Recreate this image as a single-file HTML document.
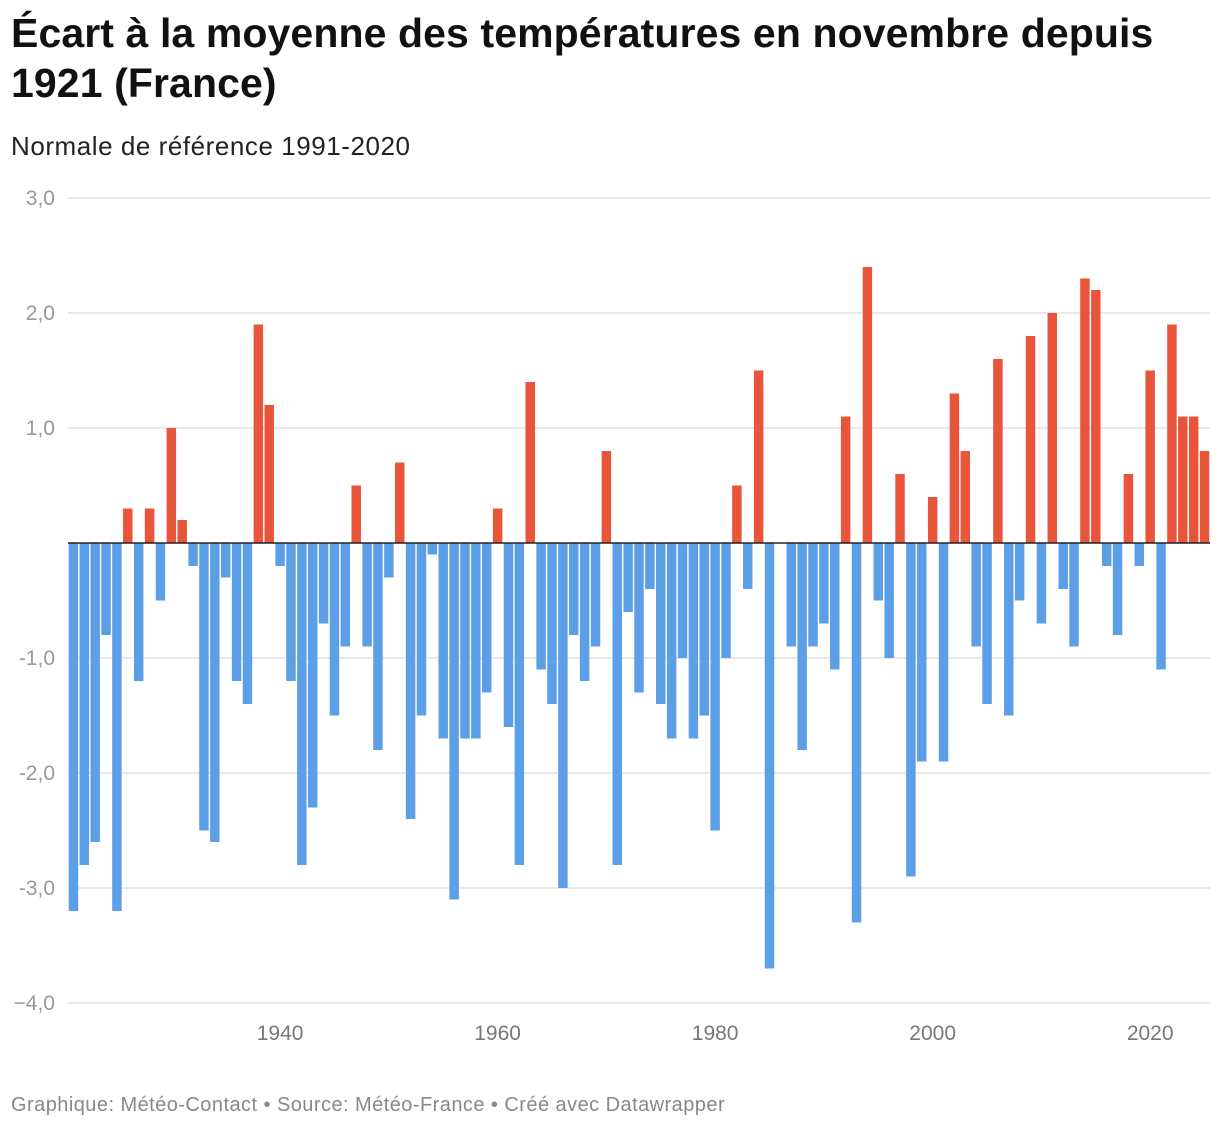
<!DOCTYPE html>
<html><head><meta charset="utf-8"><style>
body{margin:0;background:#fff;font-family:"Liberation Sans",sans-serif;}
#t{position:absolute;left:11px;top:8px;font-size:41px;font-weight:bold;line-height:50px;color:#111;width:1210px;letter-spacing:0.1px}
#s{position:absolute;left:11px;top:131px;font-size:26px;color:#222;letter-spacing:0.55px}
#f{position:absolute;left:11px;top:1094px;font-size:20px;color:#888;letter-spacing:0.45px}
svg{position:absolute;left:0;top:0}
</style></head><body>
<div id="t">Écart à la moyenne des températures en novembre depuis 1921 (France)</div>
<div id="s">Normale de référence 1991-2020</div>
<div id="f">Graphique: Météo-Contact • Source: Météo-France • Créé avec Datawrapper</div>
<svg id="c" width="1220" height="1130"></svg>
<script>
const startYear=1921;
const values=[-3.2,-2.8,-2.6,-0.8,-3.2,0.3,-1.2,0.3,-0.5,1.0,0.2,-0.2,-2.5,-2.6,-0.3,-1.2,-1.4,1.9,1.2,-0.2,
-1.2,-2.8,-2.3,-0.7,-1.5,-0.9,0.5,-0.9,-1.8,-0.3,0.7,-2.4,-1.5,-0.1,-1.7,-3.1,-1.7,-1.7,-1.3,0.3,
-1.6,-2.8,1.4,-1.1,-1.4,-3.0,-0.8,-1.2,-0.9,0.8,-2.8,-0.6,-1.3,-0.4,-1.4,-1.7,-1.0,-1.7,-1.5,-2.5,
-1.0,0.5,-0.4,1.5,-3.7,0,-0.9,-1.8,-0.9,-0.7,-1.1,1.1,-3.3,2.4,-0.5,-1.0,0.6,-2.9,-1.9,0.4,
-1.9,1.3,0.8,-0.9,-1.4,1.6,-1.5,-0.5,1.8,-0.7,2.0,-0.4,-0.9,2.3,2.2,-0.2,-0.8,0.6,-0.2,1.5,
-1.1,1.9,1.1,1.1,0.8];
const yTicks=[3,2,1,-1,-2,-3,-4];
const yTickLabels=["3,0","2,0","1,0","-1,0","-2,0","-3,0","−4,0"];
const xTicks=[1940,1960,1980,2000,2020];
const NS="http://www.w3.org/2000/svg";
const svg=document.getElementById('c');
const x0=68,x1=1210,n=values.length,band=(x1-x0)/n;
const y=v=>543-v*115;
const xc=yr=>x0+(yr-startYear+0.5)*band;
function mk(t,a){const e=document.createElementNS(NS,t);for(const k in a)e.setAttribute(k,a[k]);svg.appendChild(e);return e;}
yTicks.forEach((v,i)=>{
 const l=mk('line',{x1:68,x2:1210,y1:y(v),y2:y(v),stroke:'#e2e2e2','stroke-width':1.5});
 
 
 const t=mk('text',{x:55,y:y(v)+7,'text-anchor':'end','font-size':21,fill:'#999'});
 t.textContent=yTickLabels[i];
 
 
});
values.forEach((v,i)=>{
 const r=mk('rect',{x:x0+i*band+0.7,width:band-1.4,y:Math.min(y(v),y(0)),height:Math.abs(y(v)-y(0)),fill:v>=0?'#e9553a':'#5d9fe6'});
 
 
});
const z=mk('line',{x1:68,x2:1210,y1:y(0),y2:y(0),stroke:'#222','stroke-width':1.5});


xTicks.forEach(yr=>{
 const t=mk('text',{x:xc(yr),y:1040,'text-anchor':'middle','font-size':21,fill:'#777'});
 t.textContent=yr;
 
 
});
</script>
</body></html>
